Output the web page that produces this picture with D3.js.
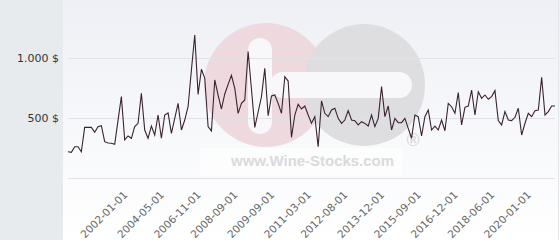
<!DOCTYPE html>
<html>
<head>
<meta charset="utf-8">
<script src="https://cdn.jsdelivr.net/npm/d3@7"></script>
<style>
  body { margin: 0; background: #fff; }
  svg { display: block; }
</style>
</head>
<body>
<div id="chart"></div>
<script>
// price history, one point per listing date (category axis)
var dates = [
  "2000-07-01","2000-08-01","2000-09-01","2000-10-01","2000-11-01","2000-12-01","2001-01-01","2001-02-01","2001-03-01","2001-04-01",
  "2001-05-01","2001-06-01","2001-07-01","2001-08-01","2001-09-01","2001-10-01","2001-11-01","2001-12-01",
  "2002-01-01","2002-04-01","2002-06-01","2002-09-01","2002-11-01","2003-02-01","2003-04-01","2003-07-01","2003-09-01","2003-12-01","2004-02-01",
  "2004-05-01","2004-08-01","2004-10-01","2005-01-01","2005-04-01","2005-06-01","2005-09-01","2005-12-01","2006-02-01","2006-05-01","2006-08-01",
  "2006-11-01","2007-01-01","2007-03-01","2007-05-01","2007-07-01","2007-09-01","2007-11-01","2008-01-01","2008-03-01","2008-05-01","2008-07-01",
  "2008-09-01","2008-10-01","2008-11-01","2008-12-01","2009-01-01","2009-02-01","2009-03-01","2009-04-01","2009-05-01","2009-06-01","2009-07-01",
  "2009-09-01","2009-11-01","2010-01-01","2010-02-01","2010-04-01","2010-05-01","2010-07-01","2010-08-01","2010-10-01","2010-11-01","2011-01-01",
  "2011-03-01","2011-05-01","2011-06-01","2011-08-01","2011-09-01","2011-11-01","2011-12-01","2012-02-01","2012-03-01","2012-05-01","2012-06-01",
  "2012-08-01","2012-10-01","2012-11-01","2013-01-01","2013-02-01","2013-04-01","2013-05-01","2013-07-01","2013-08-01","2013-10-01","2013-11-01",
  "2013-12-01","2014-02-01","2014-04-01","2014-06-01","2014-08-01","2014-10-01","2014-12-01","2015-02-01","2015-04-01","2015-06-01","2015-07-01",
  "2015-09-01","2015-10-01","2015-12-01","2016-01-01","2016-03-01","2016-04-01","2016-06-01","2016-07-01","2016-08-01","2016-10-01","2016-11-01",
  "2016-12-01","2017-02-01","2017-03-01","2017-05-01","2017-06-01","2017-08-01","2017-09-01","2017-11-01","2017-12-01","2018-02-01","2018-04-01",
  "2018-06-01","2018-08-01","2018-09-01","2018-11-01","2019-01-01","2019-03-01","2019-04-01","2019-06-01","2019-08-01","2019-10-01","2019-11-01",
  "2020-01-01","2020-03-01","2020-04-01","2020-06-01","2020-07-01","2020-09-01","2020-10-01","2020-12-01"
];

var prices = [
  219,214,261,261,219,422,422,422,381,428,
  436,303,292,289,281,480,678,317,350,331,
  428,456,706,400,331,433,358,525,331,525,
  542,372,497,622,400,483,594,900,1192,697,
  906,831,428,392,817,690,575,700,780,856,
  747,539,622,650,1053,740,422,550,678,914,
  519,683,692,622,539,844,808,339,525,614,
  575,600,525,456,511,261,642,539,511,567,
  581,497,456,483,561,483,478,442,469,455,
  433,525,428,497,761,511,600,400,497,461,
  461,497,414,331,525,511,350,511,567,400,
  433,400,483,394,622,594,539,711,442,589,
  600,733,525,719,664,692,656,678,728,478,
  442,553,483,478,506,581,358,456,539,511,
  561,567,839,525,553,600,600
];

var tickLabels = ["2002-01-01","2004-05-01","2006-11-01","2008-09-01","2009-09-01","2011-03-01",
                  "2012-08-01","2013-12-01","2015-09-01","2016-12-01","2018-06-01","2020-01-01"];
var yLabelTicks = [500, 1000];
var gridTicks = [0, 500, 1000];

//Dimensions
var W = 560, H = 240;
var panelW = 63;
var plotL = 68, plotR = 555;

var svg = d3.select("#chart").append("svg")
    .attr("width", W).attr("height", H);

var defs = svg.append("defs");
var grad = defs.append("linearGradient").attr("id", "bg")
    .attr("x1", 0).attr("y1", 0).attr("x2", 0).attr("y2", 1);
grad.append("stop").attr("offset", "0%").attr("stop-color", "#eef0f5");
grad.append("stop").attr("offset", "100%").attr("stop-color", "#ffffff");

//Backgrounds
svg.append("rect").attr("x", 0).attr("y", 0).attr("width", panelW).attr("height", H)
    .attr("fill", "#e8ebee");
svg.append("rect").attr("x", panelW).attr("y", 0).attr("width", W - panelW).attr("height", H)
    .attr("fill", "url(#bg)");
svg.append("line").attr("x1", 558.5).attr("x2", 558.5).attr("y1", 0).attr("y2", H)
    .attr("stroke", "#e4e6ea");

//Watermark
var wm = svg.append("g").attr("class", "watermark");
wm.append("rect").attr("x", 200).attr("y", 148).attr("width", 202).attr("height", 28)
    .attr("fill", "#ffffff").attr("opacity", 0.6);
wm.append("circle").attr("cx", 266).attr("cy", 85).attr("r", 62).attr("fill", "#eed9df");
wm.append("circle").attr("cx", 364).attr("cy", 85).attr("r", 61).attr("fill", "#dedee0");
wm.append("rect").attr("x", 248).attr("y", 38).attr("width", 24).attr("height", 96).attr("rx", 12)
    .attr("fill", "#f8f8fa");
wm.append("rect").attr("x", 270).attr("y", 72).attr("width", 142).attr("height", 26).attr("rx", 13)
    .attr("fill", "#f8f8fa");
wm.append("text").attr("x", 231).attr("y", 166)
    .attr("textLength", 163).attr("lengthAdjust", "spacingAndGlyphs")
    .attr("font-family", "Liberation Sans, Arial, sans-serif").attr("font-weight", "bold")
    .attr("font-size", 15).attr("fill", "#dadadd")
    .text("www.Wine-Stocks.com");
wm.append("text").attr("x", 413).attr("y", 146).attr("text-anchor", "middle")
    .attr("font-family", "DejaVu Sans, sans-serif").attr("font-size", 17).attr("fill", "#d6d6d9")
    .text("®");

//Scales
var x = d3.scalePoint().domain(dates).range([plotL, plotR]);
var y = d3.scaleLinear().domain([0, 1000]).range([178, 58]);

var loc = d3.formatLocale({decimal: ",", thousands: ".", grouping: [3], currency: ["", " $"]});
var fmt = loc.format(",");

//Grid
var grid = svg.append("g").attr("transform", "translate(" + plotL + ",0)")
    .call(d3.axisLeft(y).tickValues(gridTicks).tickSize(-(plotR - plotL)).tickFormat(""));
grid.select(".domain").remove();
grid.selectAll(".tick line").attr("stroke", "#e1e1e7").attr("stroke-width", 1);

//Y labels
var yAxis = svg.append("g").attr("transform", "translate(59,0)")
    .call(d3.axisLeft(y).tickValues(yLabelTicks).tickSize(0).tickPadding(0)
        .tickFormat(function (d) { return fmt(d) + " $"; }));
yAxis.select(".domain").remove();
yAxis.selectAll("text")
    .attr("font-family", "DejaVu Sans, sans-serif").attr("font-size", 11).attr("fill", "#333");

//X labels
var xAxis = svg.append("g").attr("transform", "translate(0,178)")
    .call(d3.axisBottom(x).tickValues(tickLabels).tickSize(0));
xAxis.select(".domain").remove();
xAxis.selectAll("text")
    .attr("x", 0).attr("y", 0).attr("dy", "0.35em")
    .attr("text-anchor", "end")
    .attr("transform", "translate(-3,15) rotate(-45)")
    .attr("font-family", "DejaVu Sans, sans-serif").attr("font-size", 10.5).attr("fill", "#666");

//Line
var line = d3.line()
    .x(function (d, i) { return x(dates[i]); })
    .y(function (d) { return y(d); });

svg.append("path").datum(prices)
    .attr("d", line)
    .attr("fill", "none")
    .attr("stroke", "#3a2330")
    .attr("stroke-width", 1.1)
    .attr("stroke-linejoin", "miter");
</script>
</body>
</html>
